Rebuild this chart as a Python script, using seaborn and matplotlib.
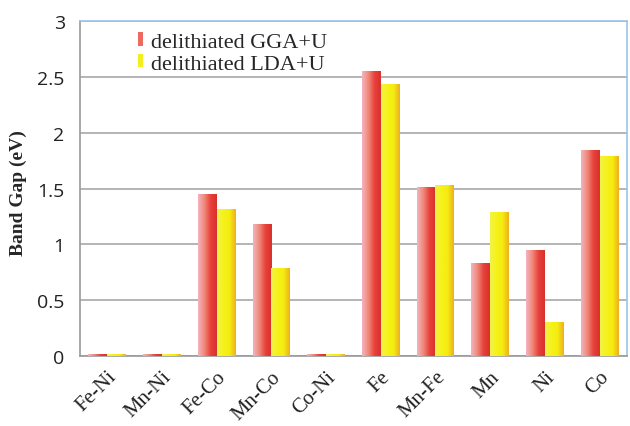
import numpy as np
import pandas as pd
import matplotlib
matplotlib.use("Agg")
import matplotlib.pyplot as plt
import matplotlib.transforms as mtrans
from matplotlib.colors import LinearSegmentedColormap
from matplotlib.patches import Patch
import seaborn as sns

categories = ["Fe-Ni", "Mn-Ni", "Fe-Co", "Mn-Co", "Co-Ni", "Fe", "Mn-Fe", "Mn", "Ni", "Co"]
gga_values = [0.02, 0.02, 1.45, 1.18, 0.02, 2.55, 1.51, 0.83, 0.95, 1.85]
lda_values = [0.02, 0.02, 1.32, 0.79, 0.02, 2.44, 1.53, 1.29, 0.30, 1.79]
series_names = ["delithiated GGA+U", "delithiated LDA+U"]
y_ticks = [0, 0.5, 1, 1.5, 2, 2.5, 3]
y_tick_labels = ["0", "0.5", "1", "1.5", "2", "2.5", "3"]

df = pd.DataFrame({
    "cat": categories * 2,
    "val": gga_values + lda_values,
    "series": [series_names[0]] * len(categories) + [series_names[1]] * len(categories),
})

sns.set_style("white")
fig = plt.figure(figsize=(6.3, 4.27), dpi=100)
ax = fig.add_axes([0.127, 0.164, 0.868, 0.784])

palette = {series_names[0]: "#e8403a", series_names[1]: "#f4ee1c"}
sns.barplot(data=df, x="cat", y="val", hue="series", palette=palette,
            width=0.69, ax=ax, edgecolor="none", saturation=1, legend=False)

red_cmap = LinearSegmentedColormap.from_list("r", ["#f4b3c0", "#ef8a7a", "#e8403a", "#d8302c"])
yel_cmap = LinearSegmentedColormap.from_list("y", ["#f2f24a", "#f6f21a", "#f4ec10", "#f0b020"])
grad = np.linspace(0, 1, 64).reshape(1, -1)

bars = list(ax.patches)
n = len(categories)
for i, p in enumerate(bars):
    cmap = red_cmap if i < n else yel_cmap
    x0, y0 = p.get_x(), p.get_y()
    w, h = p.get_width(), p.get_height()
    im = ax.imshow(grad, cmap=cmap, aspect="auto",
                   extent=[x0, x0 + w, y0, y0 + h], zorder=3, interpolation="bilinear")
    im.set_clip_path(p)
    p.set_facecolor("none")

ax.set_xlim(-0.5, n - 0.5)
ax.set_ylim(0, 3)
ax.set_yticks(y_ticks)
ax.set_yticklabels(y_tick_labels, fontsize=14, color="#222222", family="Open Sans")
ax.yaxis.grid(True, color="#a8a8a8", linewidth=1.2, zorder=0)
ax.set_axisbelow(True)

ax.set_xticks(range(n))
ax.set_xticklabels(categories, rotation=45, ha="right", rotation_mode="anchor",
                   fontsize=15, family="Liberation Serif", color="#222222")
shift = mtrans.ScaledTranslation(-5 / 100, 0, fig.dpi_scale_trans)
for lbl in ax.get_xticklabels():
    lbl.set_transform(lbl.get_transform() + shift)
ax.set_xticks(np.arange(-0.5, n, 1), minor=True)
ax.tick_params(axis="x", which="major", length=0, pad=8)
ax.tick_params(axis="x", which="minor", length=6, color="#999999", width=1.2, direction="out")
ax.tick_params(axis="y", length=7, color="#999999", width=1.2, direction="out", pad=4)

ax.set_xlabel("")
ax.set_ylabel("Band Gap (eV)", fontsize=14, fontweight="bold", family="Liberation Serif")
ax.yaxis.set_label_coords(-0.097, 0.49)

for s in ["left", "bottom"]:
    ax.spines[s].set_color("#999999")
    ax.spines[s].set_linewidth(1.2)
for s in ["top", "right"]:
    ax.spines[s].set_color("#9dc3e6")
    ax.spines[s].set_linewidth(1.2)

handles = [Patch(facecolor="#ec6a60", edgecolor="none"), Patch(facecolor="#f4ee1c", edgecolor="none")]
ax.legend(handles, series_names, loc="upper left", bbox_to_anchor=(0.085, 1.0),
          frameon=False, prop={"family": "Liberation Serif", "size": 16},
          handlelength=0.25, handleheight=0.55, handletextpad=0.35, labelspacing=0.1,
          borderaxespad=0.1)

fig.savefig("out.png", dpi=100)
